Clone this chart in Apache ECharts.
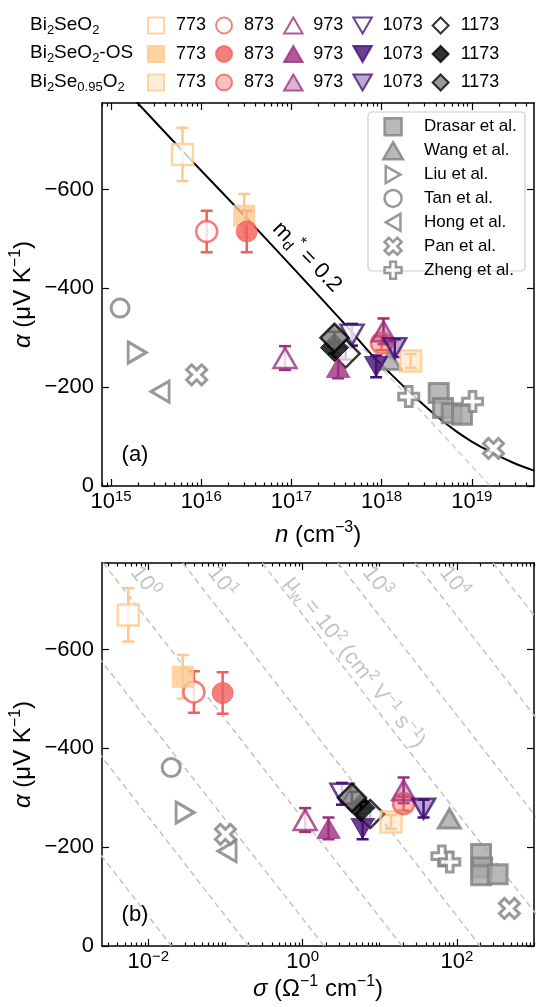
<!DOCTYPE html>
<html>
<head>
<meta charset="utf-8">
<script src="https://cdn.jsdelivr.net/npm/echarts@6/dist/echarts.min.js"></script>
<style>
  html, body { margin: 0; padding: 0; background: #fff; }
  #main { width: 559px; height: 1007px; }
</style>
</head>
<body>
<div id="main"></div>
<script>
  // measurement temperatures (K)
  const temps = ['773', '873', '973', '1073', '1173']
  const tempColors = ['#fec98d', '#f1605d', '#9e2f7f', '#451077', '#000004']
  const lightFill = ['rgba(254,201,141,0.4)', 'rgba(241,96,93,0.5)', 'rgba(158,47,127,0.45)', 'rgba(69,16,119,0.45)', '#808080']

  // (a) Seebeck vs carrier concentration n (cm^-3)
  const pristineN = [6.2e15, 1.15e16, 8.5e16, 4.7e17, 4.0e17]
  const pristineAlphaA = [-671, -515, -259, -306, -268]
  const osN = [3.0e16, 3.2e16, 3.3e17, 8.7e17, 3.0e17]
  const osAlphaA = [-547, -515, -240, -242, -280]
  const defN = [2.1e18, 1.0e18, 1.05e18, 1.4e18, 3.0e17]
  const defAlphaA = [-253, -289, -313, -279, -300]

  // (b) Seebeck vs conductivity sigma (S/cm)
  const pristineSigma = [0.0055, 0.039, 1.08, 3.24, 7.55]
  const pristineAlphaB = [-670, -514, -255, -308, -267]
  const osSigma = [0.028, 0.092, 2.17, 6.0, 5.7]
  const osAlphaB = [-545, -512, -238, -238, -280]
  const defSigma = [14.0, 20.4, 20.4, 37, 4.37]
  const defAlphaB = [-251, -288, -315, -278, -300]

  // error bar half widths (uV/K)
  const pristineErr = [54, 42, 24, 22, 12]
  const osErr = [44, 42, 22, 22, 12]
  const defErr = [14, 14, 26, 18, 12]

  // literature
  const litNames = ['Drasar et al.', 'Wang et al.', 'Liu et al.', 'Tan et al.', 'Hong et al.', 'Pan et al.', 'Zheng et al.']
  const drasarN = [4.3e18, 4.8e18, 6.0e18, 7.8e18]
  const drasarAlphaA = [-188, -158, -147, -144]
  const drasarSigma = [206, 212, 206, 338]
  const drasarAlphaB = [-186, -159, -143, -145]
  const wangN = [1.23e18]
  const wangAlphaA = [-255]
  const wangSigma = [80]
  const wangAlphaB = [-258]
  const liuN = [1.95e15]
  const liuAlphaA = [-270]
  const liuSigma = [0.030]
  const liuAlphaB = [-270]
  const tanN = [1.26e15]
  const tanAlphaA = [-360]
  const tanSigma = [0.0198]
  const tanAlphaB = [-361]
  const hongN = [3.5e15]
  const hongAlphaA = [-191]
  const hongSigma = [0.105]
  const hongAlphaB = [-192]
  const panN = [8.9e15, 1.74e19]
  const panAlphaA = [-225, -76]
  const panSigma = [0.10, 480]
  const panAlphaB = [-226, -76]
  const zhengN = [2.0e18, 1.02e19]
  const zhengAlphaA = [-181, -171]
  const zhengSigma = [64, 81]
  const zhengAlphaB = [-182, -170]

  // SPB curve m_d* = 0.2 and non-degenerate limit (dashed)
  const curveN = [1.6e15, 1.95e15, 7.6e15, 3.0e16, 1.0e17, 3.8e17, 8.1e17, 1.23e18, 1.82e18, 2.9e18, 4.5e18, 6.8e18, 1.0e19, 1.58e19, 2.8e19, 4.9e19]
  const curveAlpha = [-794, -776, -661, -547, -445, -330, -262, -229, -199, -165, -135, -110, -90, -70, -48, -31]
  const dashN = [6.3e17, 1.6e19]
  const dashAlpha = [-278, 0]

  // iso weighted-mobility lines (b): sigma at alpha = -775 and at alpha = 0
  const isoSigmaTop = [2.8e-6, 2.8e-5, 2.5e-4, 2.6e-3, 0.028, 0.30, 2.9, 29, 295]
  const isoSigmaBottom = [0.02, 0.2, 1.9, 19.5, 200, 2240, 21400, 214000, 2.24e6]

  const yTicks = [-600, -400, -200, 0]
  const xTicksA = [15, 16, 17, 18, 19]
  const xTicksB = [-2, 0, 2]

  const FONT = 'Liberation Sans, Arial, Helvetica, sans-serif'
  const GRAY = '#808080'
  const GRAY_FILL = '#a8a8a8'
  const ISO = '#c4c4c4'
  const RECT = 'path://M0,0 L10,0 L10,10 L0,10 Z'
  const TRI = 'path://M10,0 L20,17.3 L0,17.3 Z'
  const DOWN = 'path://M0,0 L20,0 L10,17.3 Z'
  const DIAMOND = 'path://M5,0 L10,5 L5,10 L0,5 Z'
  const RIGHT = 'path://M0,0 L17.3,10 L0,20 Z'
  const LEFT = 'path://M17.3,0 L0,10 L17.3,20 Z'
  const PLUS = 'path://M-1,-3 L1,-3 L1,-1 L3,-1 L3,1 L1,1 L1,3 L-1,3 L-1,1 L-3,1 L-3,-1 L-1,-1 Z'
  const XMARK = 'path://M2,-4 L4,-2 L2,0 L4,2 L2,4 L0,2 L-2,4 L-4,2 L-2,0 L-4,-2 L-2,-4 L0,-2 Z'
  const tempSymbols = [RECT, 'circle', TRI, DOWN, DIAMOND]
  const tempSizes = [21, 21, [23, 20], [23, 20], [28, 28]]

  function minorTicks(lo, hi, extra) {
    const out = extra ? extra.slice() : []
    for (let d = Math.floor(lo); d <= Math.ceil(hi); d++) {
      for (let k = 2; k <= 9; k++) {
        const v = d + Math.log10(k)
        if (v >= lo && v <= hi) out.push(v)
      }
    }
    return out
  }

  const nameStyle = {
    fontSize: 24, lineHeight: 30, color: '#000', fontFamily: FONT,
    rich: {
      i: { fontSize: 24, lineHeight: 30, fontStyle: 'italic', fontFamily: FONT, color: '#000' },
      sup: { fontSize: 16, lineHeight: 15, verticalAlign: 'top', fontFamily: FONT, color: '#000' }
    }
  }
  const frame = { show: true, onZero: false, lineStyle: { color: '#000', width: 1.5 } }
  const tickStyle = { color: '#000', width: 1.2 }

  function xAxes(gridIndex, range, major, minor, name, nameGap) {
    const base = { type: 'value', gridIndex, min: range[0], max: range[1], splitLine: { show: false } }
    const fmt = (v) => '10{sup|' + String(Math.round(v)).replace('-', '−') + '}'
    return [
      {
        ...base, position: 'bottom', axisLine: frame,
        axisTick: { show: true, inside: true, length: 7, customValues: major, lineStyle: tickStyle },
        axisLabel: {
          show: true, customValues: major, formatter: fmt, margin: 3, fontSize: 22, lineHeight: 26, color: '#000', fontFamily: FONT,
          rich: { sup: { fontSize: 15, lineHeight: 14, verticalAlign: 'top', fontFamily: FONT, color: '#000' } }
        },
        name, nameLocation: 'middle', nameGap, nameMoveOverlap: false, nameTextStyle: nameStyle
      },
      { ...base, position: 'bottom', axisLine: { show: false, onZero: false }, axisTick: { show: true, inside: true, length: 3.5, customValues: minor, lineStyle: tickStyle }, axisLabel: { show: false } },
      { ...base, position: 'top', axisLine: frame, axisTick: { show: true, inside: true, length: 7, customValues: major, lineStyle: tickStyle }, axisLabel: { show: false } },
      { ...base, position: 'top', axisLine: { show: false, onZero: false }, axisTick: { show: true, inside: true, length: 3.5, customValues: minor, lineStyle: tickStyle }, axisLabel: { show: false } }
    ]
  }

  function yAxes(gridIndex) {
    const base = { type: 'value', gridIndex, min: -775, max: 0, inverse: true, splitLine: { show: false } }
    return [
      {
        ...base, position: 'left', axisLine: frame,
        axisTick: { show: true, inside: true, length: 7, customValues: yTicks, lineStyle: tickStyle },
        axisLabel: { show: true, customValues: yTicks, formatter: (v) => (v < 0 ? '−' + Math.abs(v) : String(v)), margin: 8, fontSize: 22, color: '#000', fontFamily: FONT },
        name: '{i|α} (μV K{sup|−1})', nameLocation: 'middle', nameGap: 64, nameMoveOverlap: false, nameTextStyle: nameStyle
      },
      { ...base, position: 'right', axisLine: frame, axisTick: { show: true, inside: true, length: 7, customValues: yTicks, lineStyle: tickStyle }, axisLabel: { show: false } }
    ]
  }

  function scatter(name, xs, ys, symbol, size, itemStyle, xi, yi, z) {
    return {
      type: 'scatter', name, xAxisIndex: xi, yAxisIndex: yi, symbol, symbolSize: size,
      itemStyle, z, silent: true, emphasis: { disabled: true },
      data: xs.map((v, i) => [Math.log10(v), ys[i]])
    }
  }

  function errorBars(xs, ys, errs, xi, yi) {
    return {
      type: 'custom', xAxisIndex: xi, yAxisIndex: yi, z: 3, silent: true,
      data: xs.map((v, i) => [Math.log10(v), ys[i] - errs[i], ys[i] + errs[i], i]),
      renderItem(params, api) {
        const x = api.value(0)
        const p1 = api.coord([x, api.value(1)])
        const p2 = api.coord([x, api.value(2)])
        const st = { stroke: tempColors[api.value(3)], lineWidth: 2.5 }
        const cap = 6
        return {
          type: 'group',
          children: [
            { type: 'line', shape: { x1: p1[0], y1: p1[1], x2: p2[0], y2: p2[1] }, style: st },
            { type: 'line', shape: { x1: p1[0] - cap, y1: p1[1], x2: p1[0] + cap, y2: p1[1] }, style: st },
            { type: 'line', shape: { x1: p2[0] - cap, y1: p2[1], x2: p2[0] + cap, y2: p2[1] }, style: st }
          ]
        }
      }
    }
  }

  const groups = [
    { key: 'B', nA: pristineN, aA: pristineAlphaA, sB: pristineSigma, aB: pristineAlphaB, err: pristineErr,
      style: (i) => ({ color: '#ffffff', borderColor: tempColors[i], borderWidth: 2.5 }) },
    { key: 'OS', nA: osN, aA: osAlphaA, sB: osSigma, aB: osAlphaB, err: osErr,
      style: (i) => ({ color: tempColors[i], borderColor: tempColors[i], borderWidth: 1 }) },
    { key: 'Se', nA: defN, aA: defAlphaA, sB: defSigma, aB: defAlphaB, err: defErr,
      style: (i) => ({ color: lightFill[i], borderColor: tempColors[i], borderWidth: 2.5 }) }
  ]

  const litDefs = [
    { symbol: RECT, size: 19, fill: GRAY_FILL, nA: drasarN, aA: drasarAlphaA, sB: drasarSigma, aB: drasarAlphaB },
    { symbol: TRI, size: [22, 19], fill: GRAY_FILL, nA: wangN, aA: wangAlphaA, sB: wangSigma, aB: wangAlphaB },
    { symbol: RIGHT, size: [18, 21], fill: '#fff', nA: liuN, aA: liuAlphaA, sB: liuSigma, aB: liuAlphaB },
    { symbol: 'circle', size: 18, fill: '#fff', nA: tanN, aA: tanAlphaA, sB: tanSigma, aB: tanAlphaB },
    { symbol: LEFT, size: [18, 21], fill: '#fff', nA: hongN, aA: hongAlphaA, sB: hongSigma, aB: hongAlphaB },
    { symbol: XMARK, size: 20, fill: '#fff', nA: panN, aA: panAlphaA, sB: panSigma, aB: panAlphaB },
    { symbol: PLUS, size: 20, fill: '#fff', nA: zhengN, aA: zhengAlphaA, sB: zhengSigma, aB: zhengAlphaB }
  ]

  const series = []
  // model lines
  series.push({
    type: 'line', xAxisIndex: 0, yAxisIndex: 0, symbol: 'none', z: 1, silent: true,
    lineStyle: { color: '#d0d0d0', width: 1.5, type: [6, 4] },
    data: dashN.map((v, i) => [Math.log10(v), dashAlpha[i]])
  })
  series.push({
    type: 'line', xAxisIndex: 0, yAxisIndex: 0, symbol: 'none', smooth: 0.4, z: 1, silent: true,
    lineStyle: { color: '#000', width: 2 },
    data: curveN.map((v, i) => [Math.log10(v), curveAlpha[i]])
  })
  isoSigmaTop.forEach((s, k) => {
    series.push({
      type: 'line', xAxisIndex: 4, yAxisIndex: 2, symbol: 'none', z: 1, silent: true,
      lineStyle: { color: ISO, width: 1.5, type: [6, 4] },
      data: [[Math.log10(s), -775], [Math.log10(isoSigmaBottom[k]), 0]]
    })
  })
  // literature points
  litDefs.forEach((d, j) => {
    const st = { color: d.fill, borderColor: GRAY, borderWidth: 3 }
    series.push(scatter(litNames[j], d.nA, d.aA, d.symbol, d.size, st, 0, 0, 4))
    series.push(scatter(litNames[j], d.sB, d.aB, d.symbol, d.size, st, 4, 2, 4))
  })
  // this work
  groups.forEach((g) => {
    series.push(errorBars(g.nA, g.aA, g.err, 0, 0))
    series.push(errorBars(g.sB, g.aB, g.err, 4, 2))
  })
  groups.forEach((g) => {
    temps.forEach((t, i) => {
      const name = g.key + '|' + t
      series.push(scatter(name, [g.nA[i]], [g.aA[i]], tempSymbols[i], tempSizes[i], g.style(i), 0, 0, 5))
      series.push(scatter(name, [g.sB[i]], [g.aB[i]], tempSymbols[i], tempSizes[i], g.style(i), 4, 2, 5))
    })
  })

  // legend content box starts at the first visible icon, so left is offset by the icon inset
  function rowLegend(key, top) {
    return {
      data: temps.map((t) => key + '|' + t), left: 147, top, orient: 'horizontal', padding: 0, align: 'left',
      itemWidth: 30, itemHeight: 16, itemGap: 9, selectedMode: false,
      itemStyle: { borderWidth: 2 },
      formatter: (name) => name.split('|')[1],
      textStyle: { fontSize: 18, color: '#000', fontFamily: FONT }
    }
  }

  const gtext = (text, x, y, extra) => ({
    type: 'text', x, y, z: 10, silent: true, ...extra,
    style: Object.assign({ text, fill: '#000', fontSize: 19, fontFamily: FONT, align: 'left', verticalAlign: 'middle' }, extra && extra.style)
  })
  const subRich = { s: { fontSize: 13, lineHeight: 12, verticalAlign: 'bottom', fontFamily: FONT } }
  const isoRich = {
    p: { fontSize: 15, lineHeight: 14, verticalAlign: 'top', fontFamily: FONT, fill: ISO },
    s: { fontSize: 15, lineHeight: 14, verticalAlign: 'bottom', fontFamily: FONT, fill: ISO }
  }
  const isoLabel = (text, x, y) => gtext(text, x, y, {
    rotation: -0.904,
    style: { fill: ISO, align: 'center', fontSize: 22, lineHeight: 28, rich: isoRich }
  })

  const option = {
    animation: false,
    backgroundColor: '#fff',
    textStyle: { fontFamily: FONT },
    grid: [
      { left: 102, top: 103, width: 432, height: 383, outerBoundsMode: 'none' },
      { left: 102, top: 563, width: 432, height: 383, outerBoundsMode: 'none' }
    ],
    xAxis: [
      ...xAxes(0, [14.9, 19.69], xTicksA, minorTicks(14.9, 19.69), '{i|n} (cm{sup|−3})', 34),
      ...xAxes(1, [-2.6, 3.0], xTicksB, minorTicks(-2.6, 3.0, [-1, 1, 3]), '{i|σ} (Ω{sup|−1} cm{sup|−1})', 28)
    ],
    yAxis: [...yAxes(0), ...yAxes(1)],
    legend: [
      rowLegend('B', 16.5),
      rowLegend('OS', 45),
      rowLegend('Se', 73.5),
      {
        data: litNames, orient: 'vertical', left: 382, top: 117, padding: 0, align: 'left',
        itemWidth: 52, itemHeight: 17, itemGap: 4.4, selectedMode: false, z: 6,
        itemStyle: { borderWidth: 2.5 },
        textStyle: { fontSize: 17, color: '#000', fontFamily: FONT }
      }
    ],
    graphic: [
      gtext('Bi{s|2}SeO{s|2}', 30, 24.5, { style: { rich: subRich, lineHeight: 24 } }),
      gtext('Bi{s|2}SeO{s|2}-OS', 30, 53, { style: { rich: subRich, lineHeight: 24 } }),
      gtext('Bi{s|2}Se{s|0.95}O{s|2}', 30, 81.5, { style: { rich: subRich, lineHeight: 24 } }),
      {
        type: 'rect', z: 5, silent: true,
        shape: { x: 368, y: 112, width: 157, height: 159, r: 4 },
        style: { fill: 'rgba(255,255,255,0.85)', stroke: '#cccccc', lineWidth: 1.2 }
      },
      gtext('m{s|d}{p|*} = 0.2', 307, 257, {
        rotation: -0.8,
        style: {
          align: 'center', fontSize: 22, lineHeight: 28,
          rich: {
            s: { fontSize: 15, lineHeight: 14, verticalAlign: 'bottom', fontFamily: FONT },
            p: { fontSize: 16, lineHeight: 14, verticalAlign: 'top', fontFamily: FONT }
          }
        }
      }),
      isoLabel('10{p|0}', 145, 582),
      isoLabel('10{p|1}', 222, 582),
      isoLabel('μ{s|w} = 10{p|2} (cm{p|2} V{p|−1} s{p|−1})', 355, 662),
      isoLabel('10{p|3}', 377, 582),
      isoLabel('10{p|4}', 454, 582),
      gtext('(a)', 135, 455, { style: { align: 'center', fontSize: 22 } }),
      gtext('(b)', 135, 915, { style: { align: 'center', fontSize: 22 } })
    ],
    series
  }

  const chart = echarts.init(document.getElementById('main'))
  chart.setOption(option)
</script>
</body>
</html>
